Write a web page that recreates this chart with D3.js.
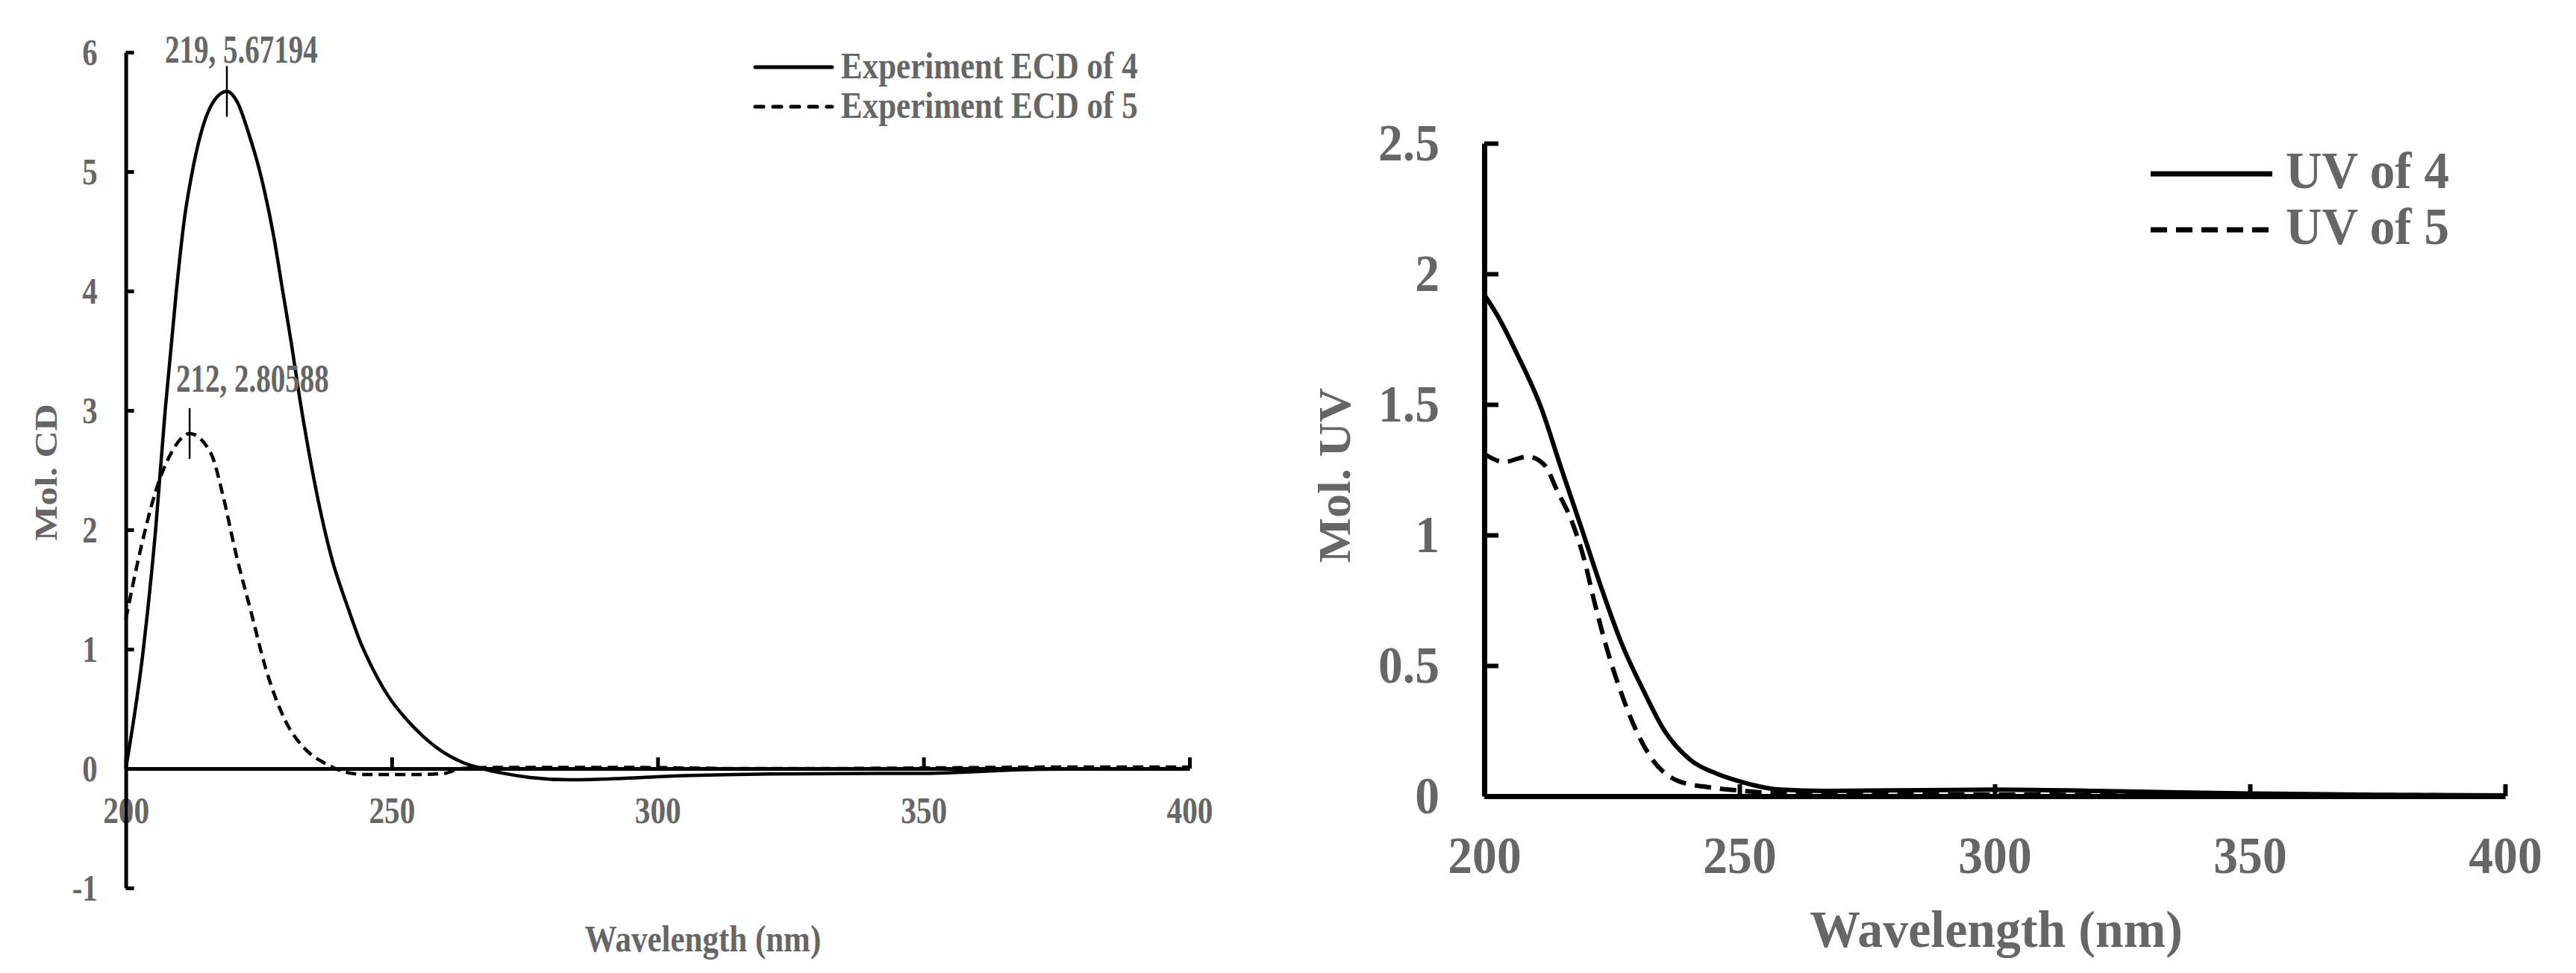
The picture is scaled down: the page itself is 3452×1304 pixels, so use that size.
<!DOCTYPE html>
<html>
<head>
<meta charset="utf-8">
<script src="https://cdn.jsdelivr.net/npm/d3@7"></script>
<style>
  body { margin: 0; background: #fff; }
  text { font-family: "Liberation Serif", "Times New Roman", serif; font-weight: bold; fill: #666; }
</style>
</head>
<body>
<svg id="chart" width="3452" height="1304"></svg>
<script>
"use strict";

// ---- data ----
var xTicks = [200, 250, 300, 350, 400];
var cdTicks = [-1, 0, 1, 2, 3, 4, 5, 6];
var uvTicks = [0, 0.5, 1, 1.5, 2, 2.5];

// ECD of 4 (solid)
var ecd4Wl  = [200, 203.3, 205.6, 207.4, 209.5, 211, 212.5, 214, 216, 219, 221, 223.1, 225.2, 227.8, 229.5, 231.1, 232.7, 234.3, 236.2, 238.6, 241.9, 244.1, 246.5, 249.3, 252.6, 255.9, 259.6, 263.4, 267, 271, 276, 283.4, 292, 305, 321, 335, 350, 358, 364, 372, 385, 400];
var ecd4Val = [0, 1.0, 2.0, 3.0, 4.0, 4.6, 5.0, 5.3, 5.55, 5.672, 5.58, 5.32, 5.0, 4.46, 4.0, 3.57, 3.1, 2.68, 2.24, 1.78, 1.33, 1.06, 0.83, 0.61, 0.42, 0.27, 0.14, 0.05, 0, -0.04, -0.075, -0.094, -0.085, -0.06, -0.046, -0.042, -0.04, -0.03, -0.017, -0.006, -0.002, 0];
// ECD of 5 (dashed)
var ecd5Wl  = [200, 202.8, 205.6, 208.5, 212, 216, 218.3, 220.7, 223.5, 226.3, 230, 233.8, 237.6, 241.3, 245, 250, 255, 260, 263, 270, 285, 300, 315, 330, 350, 375, 400];
var ecd5Val = [1.25, 1.84, 2.32, 2.64, 2.806, 2.64, 2.28, 1.8, 1.32, 0.84, 0.4, 0.16, 0.04, -0.03, -0.05, -0.05, -0.05, -0.04, 0, 0.01, 0.01, 0.008, 0, 0, 0.005, 0.012, 0.012];
// peak labels
var peakWl  = [219, 212];
var peakVal = [5.67194, 2.80588];

// UV of 4 (solid)
var uv4Wl  = [200, 202.6, 206.5, 211.1, 215, 218.9, 222.9, 226.8, 231.3, 235.2, 240.5, 245.7, 250.9, 257.5, 267, 280, 300, 320, 350, 375, 400];
var uv4Val = [1.92, 1.84, 1.69, 1.49, 1.26, 1.035, 0.80, 0.59, 0.40, 0.254, 0.137, 0.085, 0.052, 0.026, 0.02, 0.022, 0.025, 0.02, 0.01, 0.005, 0.003];
// UV of 5 (dashed)
var uv5Wl  = [200, 203.9, 208.5, 211.7, 214.4, 217, 219.6, 221.5, 224.2, 226.8, 229.4, 232.6, 237.9, 244.4, 250.9, 255.5, 265, 300, 350, 400];
var uv5Val = [1.31, 1.28, 1.30, 1.27, 1.165, 1.06, 0.905, 0.75, 0.553, 0.397, 0.267, 0.15, 0.059, 0.033, 0.02, 0.013, 0.008, 0.006, 0.004, 0.003];

var svg = d3.select('#chart');

function zip(a, b) { return a.map(function(d, i) { return [d, b[i]]; }); }

// squeezed text (the picture is narrow horizontally)
function label(g, x, y, txt, size, sx, anchor, rot)
{
	return g.append('text')
		.attr('transform', 'translate(' + x + ',' + y + ') scale(' + sx + ',1)' + (rot ? ' rotate(-90)' : ''))
		.attr('text-anchor', anchor)
		.style('font-size', size + 'px')
		.text(txt);
}

//*-*-*-*-*-*-*-*-*-*-*-*-*-*-*-*-*-*-*-*-*-
//   left panel : ECD
//*-*-*-*-*-*-*-*-*-*-*-*-*-*-*-*-*-*-*-*-*-
var left = svg.append('g').attr('class', 'ecd');
var x1 = d3.scaleLinear().domain([200, 400]).range([168.6, 1594]);
var y1 = d3.scaleLinear().domain([-1, 6]).range([1190, 70]);

var xAx1 = left.append('g')
	.attr('transform', 'translate(0,' + y1(0) + ')')
	.call(d3.axisBottom(x1).tickValues(xTicks).tickSizeInner(-15).tickSizeOuter(0).tickPadding(37));
var yAx1 = left.append('g')
	.attr('transform', 'translate(' + x1(200) + ',0)')
	.call(d3.axisLeft(y1).tickValues(cdTicks).tickSizeInner(-11).tickSizeOuter(0).tickPadding(38)
		.tickFormat(function(d) { return String(d); }));
[xAx1, yAx1].forEach(function(ax) {
	ax.select('.domain').attr('stroke-width', 5);
	ax.selectAll('.tick line').attr('stroke-width', 5);
	ax.selectAll('text').style('font-size', '51px').attr('fill', null);
});
xAx1.selectAll('.tick text').attr('transform', 'scale(0.81,1)');
yAx1.selectAll('.tick text').attr('x', -38 / 0.8).attr('transform', 'scale(0.8,1)');

var line1 = d3.line().x(function(d) { return x1(d[0]); }).y(function(d) { return y1(d[1]); }).curve(d3.curveMonotoneX);
left.append('path').datum(zip(ecd4Wl, ecd4Val))
	.attr('d', line1).attr('fill', 'none').attr('stroke', '#000').attr('stroke-width', 4.5);
left.append('path').datum(zip(ecd5Wl, ecd5Val))
	.attr('d', line1).attr('fill', 'none').attr('stroke', '#000').attr('stroke-width', 4.5)
	.attr('stroke-dasharray', '14,8');

// peak markers + labels
var peakDx = [-83, -18], peakDy = [-38, -56];
peakWl.forEach(function(w, i) {
	var px = x1(w), py = y1(peakVal[i]);
	left.append('line').attr('x1', px).attr('x2', px).attr('y1', py - 34).attr('y2', py + 34)
		.attr('stroke', '#000').attr('stroke-width', 2.5);
	label(left, px + peakDx[i], py + peakDy[i], w + ', ' + peakVal[i], 52, 0.75, 'start');
});

// titles
label(left, 942, 1275, 'Wavelength (nm)', 50, 0.86, 'middle');
label(left, 61, 633, 'Mol. CD', 50, 0.86, 'middle', true).attr('dominant-baseline', 'central');

// legend
var leg1 = ['Experiment ECD of 4', 'Experiment ECD of 5'];
leg1.forEach(function(t, i) {
	var ly = 90 + i * 53;
	left.append('line').attr('x1', 1012).attr('x2', 1115).attr('y1', ly).attr('y2', ly)
		.attr('stroke', '#000').attr('stroke-width', 5).attr('stroke-linecap', 'round')
		.attr('stroke-dasharray', i ? '11,13' : null);
	label(left, 1127, ly + 15, t, 50, 0.86, 'start');
});

//*-*-*-*-*-*-*-*-*-*-*-*-*-*-*-*-*-*-*-*-*-
//   right panel : UV
//*-*-*-*-*-*-*-*-*-*-*-*-*-*-*-*-*-*-*-*-*-
var right = svg.append('g').attr('class', 'uv');
var x2 = d3.scaleLinear().domain([200, 400]).range([1989, 3357]);
var y2 = d3.scaleLinear().domain([0, 2.5]).range([1067, 192]);

var line2 = d3.line().x(function(d) { return x2(d[0]); }).y(function(d) { return y2(d[1]); }).curve(d3.curveMonotoneX);
right.append('path').datum(zip(uv5Wl, uv5Val))
	.attr('d', line2).attr('fill', 'none').attr('stroke', '#000').attr('stroke-width', 6)
	.attr('stroke-dasharray', '22,12');
right.append('path').datum(zip(uv4Wl, uv4Val))
	.attr('d', line2).attr('fill', 'none').attr('stroke', '#000').attr('stroke-width', 6);

var xAx2 = right.append('g')
	.attr('transform', 'translate(0,' + y2(0) + ')')
	.call(d3.axisBottom(x2).tickValues(xTicks).tickSizeInner(-16).tickSizeOuter(0).tickPadding(54));
var yAx2 = right.append('g')
	.attr('transform', 'translate(' + x2(200) + ',0)')
	.call(d3.axisLeft(y2).tickValues(uvTicks).tickSizeInner(-19).tickSizeOuter(0).tickPadding(60).tickFormat(function(d) { return String(d); }));
[xAx2, yAx2].forEach(function(ax) {
	ax.select('.domain').attr('stroke-width', 7);
	ax.selectAll('.tick line').attr('stroke-width', 6);
	ax.selectAll('text').style('font-size', '69px').attr('fill', null);
});
xAx2.selectAll('.tick text').attr('transform', 'scale(0.95,1)');
yAx2.selectAll('.tick text').attr('x', -60 / 0.95).attr('transform', 'scale(0.95,1)');

label(right, 2675, 1269, 'Wavelength (nm)', 70, 0.97, 'middle');
label(right, 1789, 637, 'Mol. UV', 64, 0.95, 'middle', true).attr('dominant-baseline', 'central');

var leg2 = ['UV of 4', 'UV of 5'];
var leg2Y = [233, 308];
leg2.forEach(function(t, i) {
	right.append('line').attr('x1', 2882).attr('x2', 3045).attr('y1', leg2Y[i]).attr('y2', leg2Y[i])
		.attr('stroke', '#000').attr('stroke-width', 7)
		.attr('stroke-dasharray', i ? '22,12' : null);
	label(right, 3063, leg2Y[i] + 19, t, 70, 0.96, 'start');
});
</script>
</body>
</html>
